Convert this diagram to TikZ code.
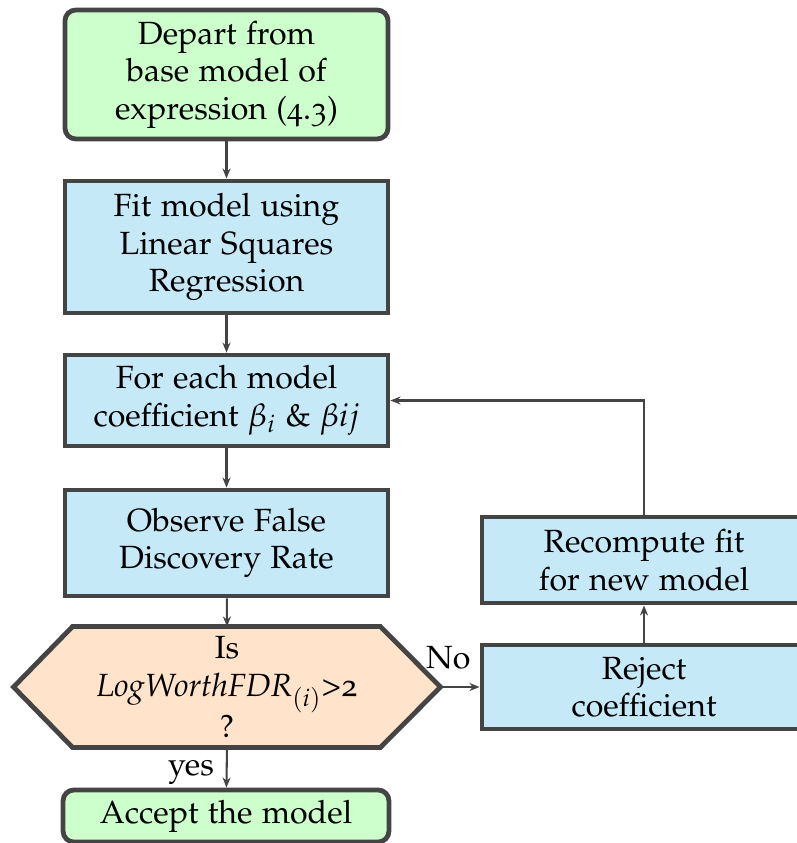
\documentclass[tikz,border=0pt]{standalone}
\usepackage[T1]{fontenc}
\usepackage[osf]{mathpazo}
\usetikzlibrary{arrows.meta,positioning}
\definecolor{edge}{HTML}{444444}
\definecolor{gfill}{HTML}{CCFFCC}
\definecolor{bfill}{HTML}{C6E9F8}
\definecolor{ofill}{HTML}{FFE4CB}
\newlength\pxu
\setlength\pxu{0.386pt}
\tikzset{
  box/.style={draw=edge, line width=1.85pt, fill=bfill, align=center,
    minimum width=124.7pt, inner sep=0pt, font=\fontsize{12.4}{14.5}\selectfont},
  gbox/.style={box, fill=gfill, rounded corners=4.2pt},
  conn/.style={draw=edge, line width=0.8pt, -{Stealth[length=3.9pt,width=3.1pt]}},
  lbl/.style={font=\fontsize{12.4}{14.5}\selectfont, inner sep=0pt}
}
\begin{document}
\begin{tikzpicture}[x=\pxu, y=-\pxu]
\useasboundingbox (0,0) rectangle (797,843);
\node[gbox, minimum height=49.8pt] (depart) at (226.5,74.5) {Depart from\\base model of\\expression (4.3)};
\node[box, minimum height=51pt] (fit) at (226.5,247) {Fit model using\\Linear Squares\\Regression};
\node[box, minimum height=35.1pt] (foreach) at (226.5,400.5) {For each model\\coefficient $\beta_i$ \& $\beta ij$};
\node[box, minimum height=40.9pt] (observe) at (226.5,543) {Observe False\\Discovery Rate};
\node[lbl, minimum width=164.4pt, minimum height=46.3pt] (dec) at (227,687) {};
\draw[draw=edge, line width=1.85pt, fill=ofill, line join=miter]
  (dec.west) -- ([xshift=22.8pt]dec.north west) -- ([xshift=-23.2pt]dec.north east)
  -- (dec.east) -- ([xshift=-23.2pt]dec.south east) -- ([xshift=22.8pt]dec.south west) -- cycle;
\node[lbl, align=center] (dectext) at (dec.center) {Is\\$\mathit{LogWorthFDR}_{(i)}$>2\\?};
\node[gbox, minimum width=125.8pt, minimum height=20.1pt] (accept) at (226,816) {Accept the model};
\node[box, minimum width=125.1pt, minimum height=33.2pt] (recomp) at (644,560) {Recompute fit\\for new model};
\node[box, minimum width=125.1pt, minimum height=32.4pt] (reject) at (644,687) {Reject\\coefficient};
\draw[conn] (depart) -- (fit);
\draw[conn] (fit) -- (foreach);
\draw[conn] (foreach) -- (observe);
\draw[conn] (observe) -- (dec.north);
\draw[conn] (dec.south) -- node[lbl, left=4.5pt, pos=0.62] (yes) {yes} (accept);
\draw[conn] (dec.east) -- node[lbl, above=6.5pt, pos=0.2] (no) {No} (reject);
\draw[conn] (reject) -- (recomp);
\draw[conn] (recomp.north) |- (foreach.east);
\end{tikzpicture}
\end{document}
